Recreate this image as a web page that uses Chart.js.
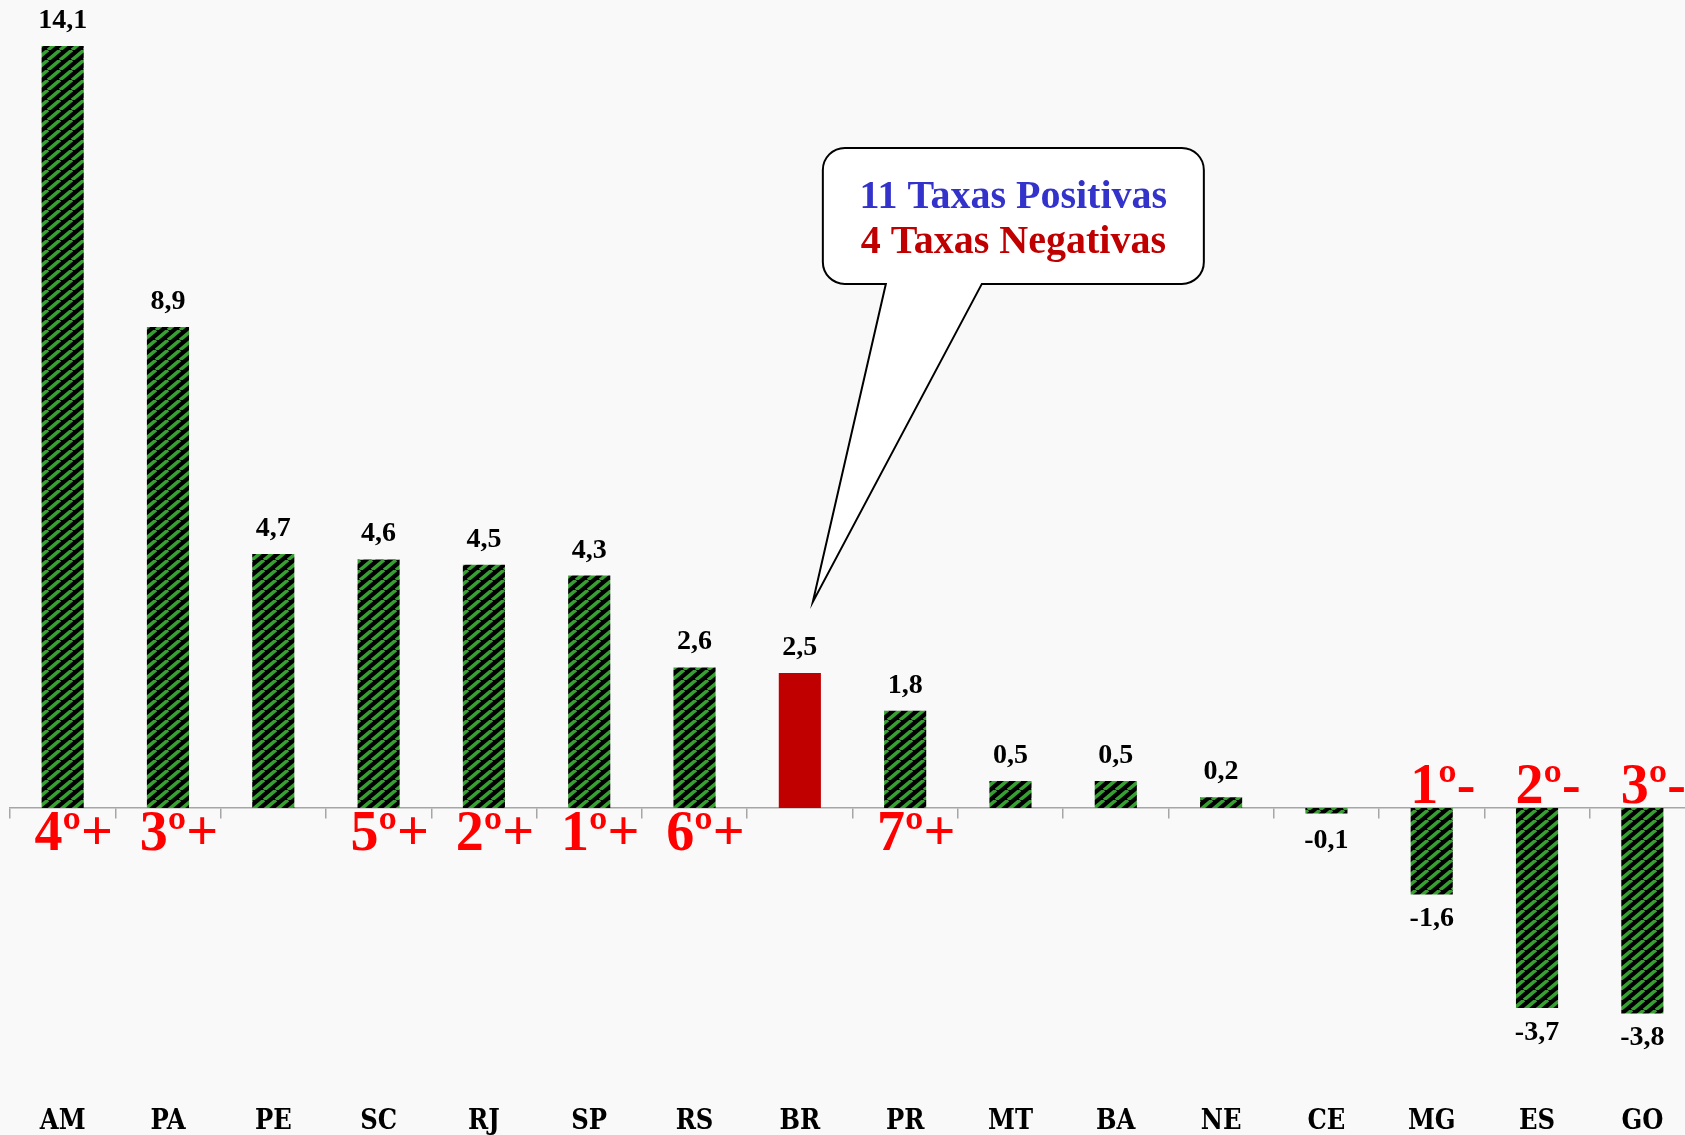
<!DOCTYPE html>
<html>
<head>
<meta charset="utf-8">
<script src="https://cdn.jsdelivr.net/npm/chart.js@4.4.1/dist/chart.umd.min.js"></script>
<style>
    html, body { margin: 0; padding: 0; overflow: hidden; background: #f9f9f9; }
    #wrap { width: 1695px; height: 1135px; }
</style>
</head>
<body>
<div id="wrap"><canvas id="taxasChart"></canvas></div>
<script>
// Chart data
const states = ['AM', 'PA', 'PE', 'SC', 'RJ', 'SP', 'RS', 'BR', 'PR', 'MT', 'BA', 'NE', 'CE', 'MG', 'ES', 'GO'];
const rates = [14.1, 8.9, 4.7, 4.6, 4.5, 4.3, 2.6, 2.5, 1.8, 0.5, 0.5, 0.2, -0.1, -1.6, -3.7, -3.8];
const ranks = ['4º+', '3º+', '', '5º+', '2º+', '1º+', '6º+', '', '7º+', '', '', '', '', '1º-', '2º-', '3º-'];
const calloutLines = ['11 Taxas Positivas', '4 Taxas Negativas'];

// Build black/green diagonal stripe pattern for bars
const makeStripes = () => {
    const c = document.createElement('canvas');
    c.width = 12;
    c.height = 10;
    const g = c.getContext('2d');
    g.fillStyle = '#000000';
    g.fillRect(0, 0, 12, 10);
    g.strokeStyle = '#38a033';
    g.lineWidth = 3.6;
    g.beginPath();
    [-12, 0, 12].forEach(k => {
        g.moveTo(k, 10);
        g.lineTo(k + 12, 0);
    });
    g.stroke();
    return g.createPattern(c, 'repeat');
};

const stripes = makeStripes();
const barColors = states.map(s => s === 'BR' ? '#c00000' : stripes);

const fmt = (v) => v.toFixed(1).replace('.', ',');

// Value labels above/below each bar, plus ranking labels near the axis
const labelsPlugin = {
    id: 'barLabels',
    afterDatasetsDraw(chart) {
        const ctx = chart.ctx;
        const meta = chart.getDatasetMeta(0);
        const zeroY = chart.scales.y.getPixelForValue(0);
        ctx.save();
        ctx.textAlign = 'center';
        ctx.textBaseline = 'alphabetic';
        meta.data.forEach((bar, i) => {
            const v = rates[i];
            ctx.font = 'bold 28px "Liberation Serif"';
            ctx.fillStyle = '#000000';
            if (v >= 0) {
                ctx.fillText(fmt(v), bar.x, bar.y - 18);
            } else {
                const bottom = Math.max(bar.y, zeroY + 8);
                ctx.fillText(fmt(v), bar.x, bottom + 32);
            }
            if (ranks[i]) {
                ctx.font = 'bold 56px "Liberation Serif"';
                ctx.fillStyle = '#ff0000';
                const y = v >= 0 ? zeroY + 42 : zeroY - 5;
                ctx.fillText(ranks[i], bar.x + 11, y);
            }
        });
        ctx.restore();
    }
};

// Speech bubble pointing at the BR bar
const calloutPlugin = {
    id: 'callout',
    afterDraw(chart) {
        const ctx = chart.ctx;
        const i = states.indexOf('BR');
        const tipX = chart.scales.x.getPixelForValue(i) + 13;
        const tipY = chart.scales.y.getPixelForValue(rates[i]) - 71;
        const left = tipX + 10, right = tipX + 391;
        const top = tipY - 454, bottom = tipY - 318;
        const r = 22;
        ctx.save();
        ctx.beginPath();
        ctx.moveTo(left + r, top);
        ctx.lineTo(right - r, top);
        ctx.arcTo(right, top, right, top + r, r);
        ctx.lineTo(right, bottom - r);
        ctx.arcTo(right, bottom, right - r, bottom, r);
        ctx.lineTo(tipX + 169, bottom);
        ctx.lineTo(tipX, tipY);
        ctx.lineTo(tipX + 73, bottom);
        ctx.lineTo(left + r, bottom);
        ctx.arcTo(left, bottom, left, bottom - r, r);
        ctx.lineTo(left, top + r);
        ctx.arcTo(left, top, left + r, top, r);
        ctx.closePath();
        ctx.fillStyle = '#ffffff';
        ctx.fill();
        ctx.lineWidth = 2;
        ctx.strokeStyle = '#000000';
        ctx.stroke();

        const cx = (left + right) / 2;
        ctx.textAlign = 'center';
        ctx.textBaseline = 'alphabetic';
        ctx.font = 'bold 40px "Liberation Serif"';
        ctx.fillStyle = '#3333cc';
        ctx.fillText(calloutLines[0], cx, top + 60);
        ctx.fillStyle = '#c00000';
        ctx.fillText(calloutLines[1], cx, top + 105);
        ctx.restore();
    }
};

const ctx = document.getElementById('taxasChart').getContext('2d');
const taxasChart = new Chart(ctx, {
    type: 'bar',
    data: {
        labels: states,
        datasets: [{
            data: rates,
            backgroundColor: barColors,
            borderWidth: 0,
            categoryPercentage: 1,
            barPercentage: 0.4
        }]
    },
    options: {
        responsive: true,
        maintainAspectRatio: false,
        animation: false,
        layout: { padding: { left: 10, right: 0, top: 0, bottom: 0 } },
        plugins: {
            legend: { display: false },
            tooltip: { enabled: false }
        },
        scales: {
            x: {
                position: 'bottom',
                offset: true,
                grid: { display: false, drawTicks: false },
                border: { display: false },
                ticks: {
                    color: '#000000',
                    padding: 11,
                    maxRotation: 0,
                    autoSkip: false,
                    font: { family: '"DejaVu Serif"', weight: 'bold condensed', size: 27 }
                },
                afterFit: (scale) => { scale.height = 40; }
            },
            xZero: {
                axis: 'x',
                type: 'category',
                labels: states,
                position: { y: 0 },
                offset: true,
                grid: {
                    display: true,
                    offset: true,
                    drawOnChartArea: false,
                    drawTicks: true,
                    tickLength: 10,
                    color: '#a6a6a6',
                    lineWidth: 1.5
                },
                border: { display: true, color: '#a6a6a6', width: 1.5 },
                ticks: { display: false }
            },
            y: {
                display: false,
                min: -5.31,
                max: 14.95
            }
        }
    },
    plugins: [labelsPlugin, calloutPlugin]
});
</script>
</body>
</html>
